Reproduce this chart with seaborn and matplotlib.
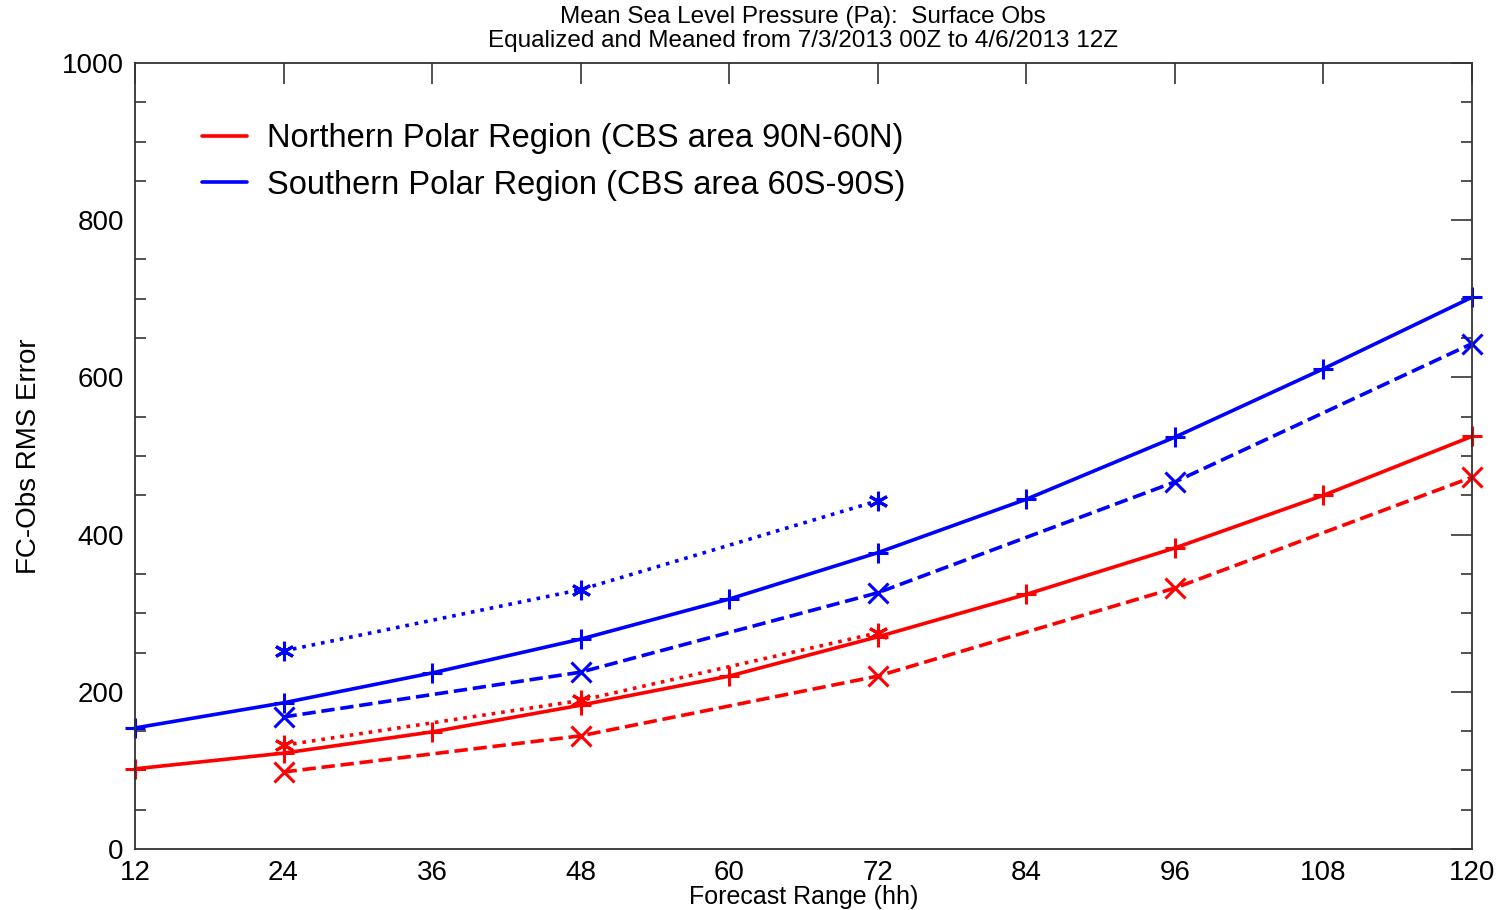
import matplotlib
matplotlib.use("Agg")
import matplotlib.pyplot as plt
import seaborn as sns
import pandas as pd
from matplotlib.ticker import MultipleLocator
from matplotlib.lines import Line2D

sns.set_theme(style="white")
plt.rcParams['font.family'] = ['Liberation Sans', 'DejaVu Sans']
plt.rcParams['text.color'] = 'black'
plt.rcParams['axes.labelcolor'] = 'black'

hours_all = [12, 24, 36, 48, 60, 72, 84, 96, 108, 120]
hours_day = [24, 48, 72, 96, 120]
hours_short = [24, 48, 72]

south_solid = [154, 186, 224, 267, 318, 377, 445, 524, 611, 702]
south_dashed = [168, 225, 326, 467, 643]
south_dotted = [252, 330, 443]

north_solid = [102, 122, 149, 183, 220, 270, 324, 383, 450, 525]
north_dashed = [98, 144, 220, 332, 473]
north_dotted = [132, 189, 275]

xticks = [12, 24, 36, 48, 60, 72, 84, 96, 108, 120]
yticks = [0, 200, 400, 600, 800, 1000]

fig = plt.figure(figsize=(15.01, 9.10), dpi=100)
ax = fig.add_axes([0.0899, 0.067, 0.8908, 0.8638])

BLUE = (0, 0, 1)
RED = (1, 0, 0)
asterisk = (6, 2, 0)

series = [
    (hours_all, north_solid, RED, '-', '+'),
    (hours_day, north_dashed, RED, '--', 'x'),
    (hours_short, north_dotted, RED, ':', asterisk),
    (hours_all, south_solid, BLUE, '-', '+'),
    (hours_day, south_dashed, BLUE, '--', 'x'),
    (hours_short, south_dotted, BLUE, ':', asterisk),
]
for xs, ys, col, ls, mk in series:
    df = pd.DataFrame({'x': xs, 'y': ys})
    sns.lineplot(data=df, x='x', y='y', ax=ax, color=col, linestyle=ls,
                 marker=mk, markersize=14, markeredgewidth=2.2, linewidth=2.6,
                 markeredgecolor=col, clip_on=False)

ax.set_xlim(12, 120)
ax.set_ylim(0, 1000)
ax.set_xticks(xticks)
ax.set_yticks(yticks)
ax.yaxis.set_minor_locator(MultipleLocator(50))
ax.tick_params(axis='both', which='major', direction='in', length=15, width=1.2,
               top=True, right=True, labelsize=20, colors='#333333', pad=8, labelcolor='black')
ax.tick_params(axis='y', which='minor', direction='in', length=8, width=1.2,
               left=True, right=True, colors='#333333')
ax.tick_params(axis='x', which='major', pad=8)
for s in ax.spines.values():
    s.set_color('#333333')
    s.set_linewidth(1.3)

ax.set_xlabel('Forecast Range (hh)', fontsize=18, labelpad=-1)
ax.set_ylabel('FC-Obs RMS Error', fontsize=20, labelpad=14)

fig.text(0.535, 0.981, 'Mean Sea Level Pressure (Pa):  Surface Obs', ha='center', va='center',
         fontsize=17.5)
fig.text(0.535, 0.955, 'Equalized and Meaned from 7/3/2013 00Z to 4/6/2013 12Z', ha='center', va='center',
         fontsize=17.5)

handles = [Line2D([0], [0], color=RED, lw=2.6),
           Line2D([0], [0], color=BLUE, lw=2.6)]
leg = ax.legend(handles, ['Northern Polar Region (CBS area 90N-60N)',
                          'Southern Polar Region (CBS area 60S-90S)'],
                loc='upper left', bbox_to_anchor=(0.028, 0.961), frameon=False,
                fontsize=23.5, handlelength=1.4, handletextpad=0.6, labelspacing=0.48)
for t in leg.get_texts():
    t.set_color('black')

fig.savefig('out.png', dpi=100)
